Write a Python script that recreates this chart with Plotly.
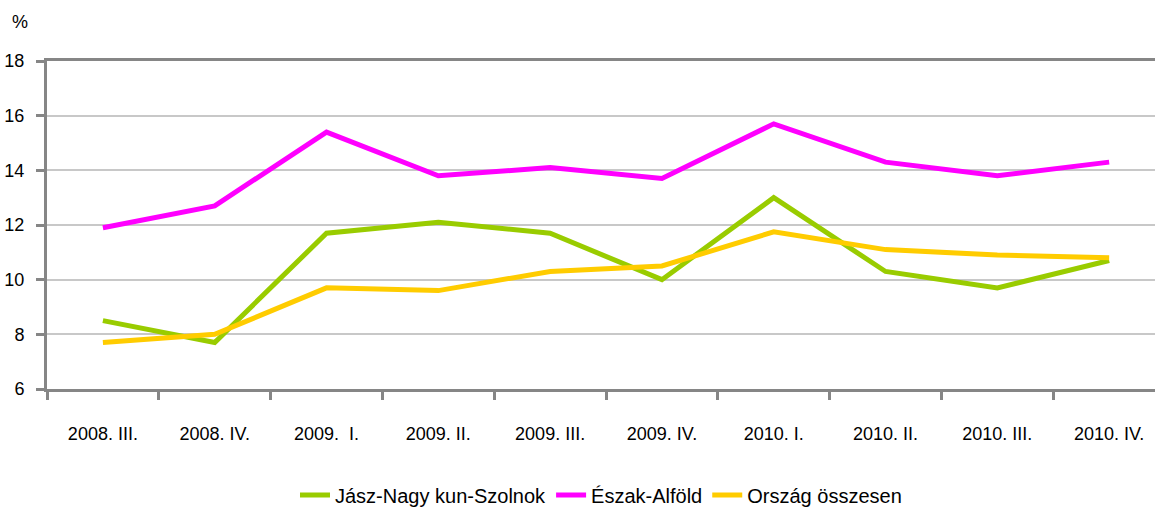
import plotly.graph_objects as go

categories = ["2008. III.", "2008. IV.", "2009.  I.", "2009. II.", "2009. III.",
              "2009. IV.", "2010. I.", "2010. II.", "2010. III.", "2010. IV."]
jasz = [8.5, 7.7, 11.7, 12.1, 11.7, 10.0, 13.0, 10.3, 9.7, 10.7]
eszak = [11.9, 12.7, 15.4, 13.8, 14.1, 13.7, 15.7, 14.3, 13.8, 14.3]
orszag = [7.7, 8.0, 9.7, 9.6, 10.3, 10.5, 11.75, 11.1, 10.9, 10.8]
y_ticks = [6, 8, 10, 12, 14, 16, 18]

FONT = "Liberation Sans Narrow, Arial Narrow, Liberation Sans, sans-serif"
FS = 18

fig = go.Figure()
for name, vals, col in [("Jász-Nagy kun-Szolnok", jasz, "#99CC00"),
                        ("Észak-Alföld", eszak, "#FF00FF"),
                        ("Ország összesen", orszag, "#FFCC00")]:
    fig.add_trace(go.Scatter(x=categories, y=vals, name=name,
                             mode="lines", line=dict(color=col, width=5)))

fig.update_layout(
    width=1155, height=507,
    margin=dict(l=47, r=0, t=61, b=118, autoexpand=False),
    paper_bgcolor="white", plot_bgcolor="white",
    font=dict(family=FONT, size=FS, color="black"),
    showlegend=True,
    legend=dict(orientation="h", x=0.5, xanchor="center", y=-0.323, yanchor="middle",
                font=dict(family=FONT, size=20), itemwidth=30, tracegroupgap=0),
    xaxis=dict(
        type="category", range=[-0.5, 9.41], showgrid=False, zeroline=False,
        showline=True, linecolor="#868686", linewidth=3, mirror=True,
        ticks="outside", ticklen=8, tickwidth=3, tickcolor="#868686",
        tickson="boundaries", ticklabelstandoff=26,
    ),
    yaxis=dict(
        range=[6, 18], tickvals=y_ticks, showgrid=True, gridcolor="#C8C8C8", gridwidth=2,
        zeroline=False, showline=True, linecolor="#868686", linewidth=3,
        ticks="outside", ticklen=8, tickwidth=3, tickcolor="#868686",
        ticklabelstandoff=8,
    ),
    annotations=[dict(text="%", xref="paper", yref="paper", x=-0.015, y=1.12,
                      xanchor="right", yanchor="middle", showarrow=False,
                      font=dict(family=FONT, size=FS))],
)

fig.write_html("out.html", config={"displayModeBar": False},
               post_script="document.body.style.margin='0';document.body.style.padding='0';")
